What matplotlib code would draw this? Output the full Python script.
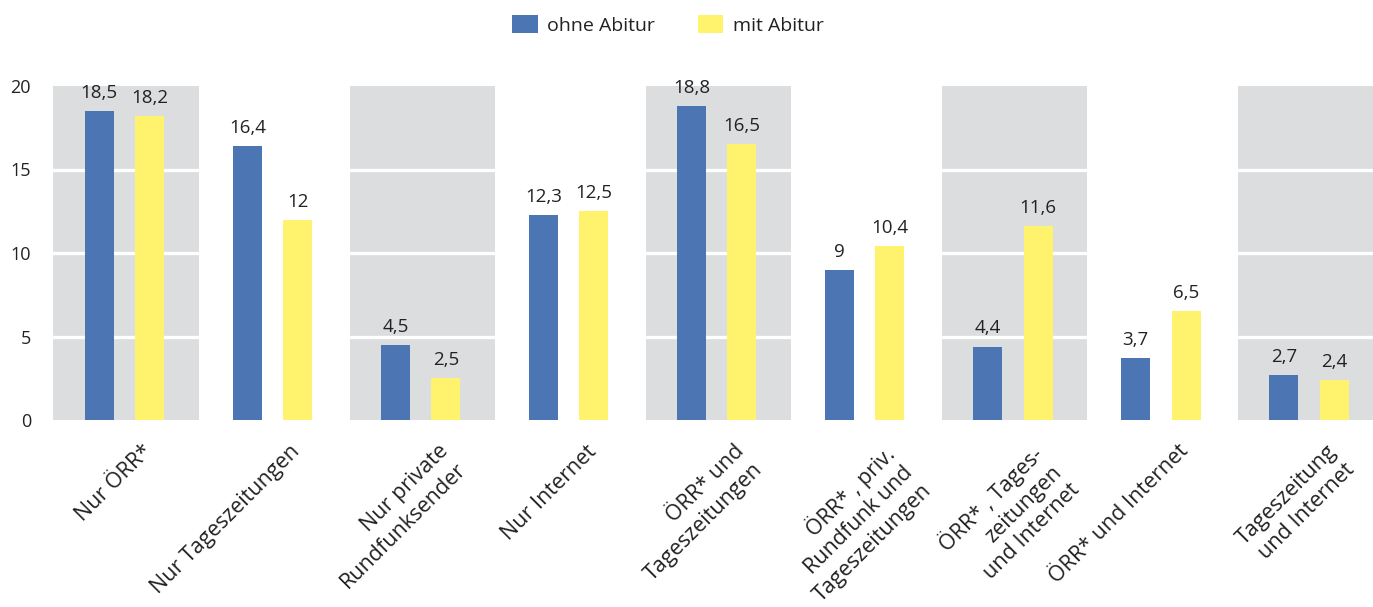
import matplotlib
matplotlib.use("Agg")
import matplotlib.pyplot as plt
from matplotlib.patches import Patch
from matplotlib.transforms import ScaledTranslation

categories = [
    "Nur ÖRR*",
    "Nur Tageszeitungen",
    "Nur private\nRundfunksender",
    "Nur Internet",
    "ÖRR* und\nTageszeitungen",
    "ÖRR* , priv.\nRundfunk und\nTageszeitungen",
    "ÖRR* , Tages-\nzeitungen\nund Internet",
    "ÖRR* und Internet",
    "Tageszeitung\nund Internet",
]
ohne_abitur = [18.5, 16.4, 4.5, 12.3, 18.8, 9, 4.4, 3.7, 2.7]
mit_abitur = [18.2, 12, 2.5, 12.5, 16.5, 10.4, 11.6, 6.5, 2.4]
series_names = ["ohne Abitur", "mit Abitur"]
yticks = [0, 5, 10, 15, 20]

BLUE = "#4c75b3"
YELLOW = "#fff36d"
GRAY = "#dcdddf"
TEXT = "#222222"

plt.rcParams["font.family"] = ["Open Sans", "DejaVu Sans"]

W, H = 1373, 607
fig = plt.figure(figsize=(W / 100, H / 100), dpi=100)
left_px, right_px = 50.5, 1383.0
bottom_px, top_px = 420.0, 86.0
ax = fig.add_axes([left_px / W, (H - bottom_px) / H,
                   (right_px - left_px) / W, (bottom_px - top_px) / H])
ax.set_xlim(-0.5, len(categories) - 0.5)
ax.set_ylim(0, 20)

def fmt(v):
    s = f"{v:g}"
    return s.replace(".", ",")

# alternating gray panels
for i in range(len(categories)):
    if i % 2 == 0:
        ax.axvspan(i - 0.48, i + 0.5, ymin=0, ymax=1, color=GRAY, lw=0, zorder=0)

# white grid lines
for y in yticks[1:-1]:
    ax.axhline(y, color="white", lw=2.4, zorder=1)

x = list(range(len(categories)))
bw = 0.196
off = 0.17
b1 = ax.bar([i - off for i in x], ohne_abitur, width=bw, color=BLUE, zorder=2)
b2 = ax.bar([i + off for i in x], mit_abitur, width=bw, color=YELLOW, zorder=2)

for bars, vals in ((b1, ohne_abitur), (b2, mit_abitur)):
    for rect, v in zip(bars, vals):
        ax.annotate(fmt(v), (rect.get_x() + rect.get_width() / 2, v),
                    xytext=(0, 6.5), textcoords="offset points",
                    ha="center", va="bottom", fontsize=13.5, color=TEXT,
                    annotation_clip=False, zorder=3)

# y tick labels
ax.set_yticks(yticks)
ax.set_yticklabels([str(t) for t in yticks], fontsize=13, color=TEXT)
ax.tick_params(axis="y", length=0, pad=14)
ax.set_xticks([])
for s in ax.spines.values():
    s.set_visible(False)

# rotated category labels
offset = ScaledTranslation(17 / 100, -21 / 100, fig.dpi_scale_trans)
for i, lab in enumerate(categories):
    ax.text(i, 0, lab, transform=ax.transData + offset, rotation=45,
            rotation_mode="anchor", ha="right", va="top",
            multialignment="right", fontsize=15.5, color=TEXT,
            linespacing=1.28, clip_on=False)

handles = [Patch(facecolor=BLUE, edgecolor="none"),
           Patch(facecolor=YELLOW, edgecolor="none")]
fig.legend(handles, series_names, loc="center",
           bbox_to_anchor=(668 / W, 1 - 25 / H), ncol=2, frameon=False,
           fontsize=14, handlelength=1.3, handleheight=1.0,
           handletextpad=0.5, columnspacing=2.2, labelcolor=TEXT)

fig.savefig("out.png", dpi=100)
